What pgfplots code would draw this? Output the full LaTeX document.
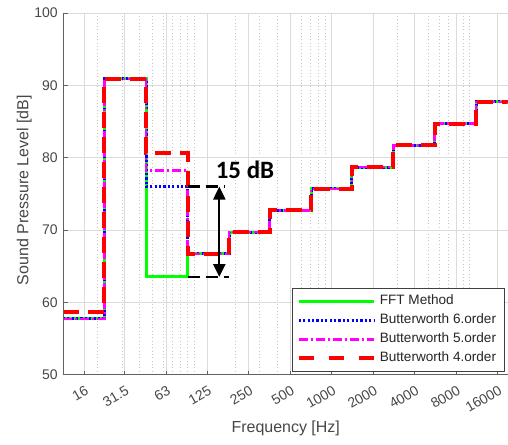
\documentclass[border=0pt]{standalone}
\usepackage{pgfplots}
\pgfplotsset{compat=1.18}
\usetikzlibrary{arrows.meta}
\usepackage{fontspec}
\setmainfont{Liberation Sans}
\newfontfamily\calibri{Carlito}
\definecolor{axgray}{rgb}{0.38,0.38,0.38}
\definecolor{txtgray}{rgb}{0.28,0.28,0.28}
\definecolor{mgreen}{rgb}{0,1,0}
\definecolor{mblue}{rgb}{0,0,1}
\definecolor{mmag}{rgb}{1,0,1}
\definecolor{mred}{rgb}{1,0,0}
\begin{document}
\begin{tikzpicture}
\begin{axis}[
  scale only axis, width=444pt, height=362pt,
  xmode=log, xmin=11.4, xmax=18900, ymin=50, ymax=100,
  axis lines*=left,
  axis line style={draw=axgray, line width=1pt, -},
  tick align=inside,
  major tick length=4pt, minor tick length=0pt,
  tick style={draw=axgray, line width=0.8pt},
  xtick={16,31.5,63,125,250,500,1000,2000,4000,8000,16000},
  xticklabels={16,31.5,63,125,250,500,1000,2000,4000,8000,16000},
  minor xtick={20,30,40,50,60,70,80,90,100,200,300,400,500,600,700,800,900,1000,2000,3000,4000,5000,6000,7000,8000,9000,10000},
  ytick={50,60,70,80,90,100},
  xmajorgrids, ymajorgrids, xminorgrids,
  major grid style={draw=black!14, line width=0.7pt},
  minor grid style={draw=black!22, line width=0.55pt, dash pattern=on 0.55pt off 2.8pt},
  /pgf/number format/assume math mode=true,
  tick label style={font=\fontsize{14}{16}\selectfont, text=txtgray, inner sep=0pt},
  xticklabel shift=14.5pt,
  xticklabel style={xshift=3pt, rotate=30, anchor=east},
  yticklabel shift=6pt,
  xlabel={Frequency [Hz]},
  ylabel={Sound Pressure Level [dB]},
  label style={font=\fontsize{16}{19}\selectfont, text=txtgray},
  xlabel style={at={(axis description cs:0.5,-0.160)}, anchor=base},
  ylabel style={at={(axis description cs:-0.080,0.51)}, anchor=base},
  legend cell align=left,
  legend image code/.code={\draw[#1] (0pt,0pt) -- (75pt,0pt);},
  legend style={at={(axis description cs:0.9932,0.0083)}, anchor=south east,
    draw=black!75, line width=0.8pt, fill=white,
    font=\fontsize{13.6}{16}\selectfont, text=black!85,
    inner xsep=4pt, inner ysep=3.5pt, row sep=0pt,
    nodes={text height=10pt, text depth=3pt, inner ysep=3pt, inner xsep=4pt}},
]
\addplot[const plot, draw=mgreen, line width=3pt, line join=miter] coordinates {
(11.2,57.7) (22.4,90.9) (45,63.5) (90,66.7) (180,69.7) (355,72.7) (710,75.7) (1400,78.7) (2800,81.7) (5600,84.7) (11200,87.7) (22400,87.7)};
\addlegendentry{FFT Method}
\addplot[const plot, draw=mblue, line width=3pt, line join=miter, dash pattern=on 2.2pt off 2.2pt] coordinates {
(11.2,57.7) (22.4,90.9) (45,76.0) (90,66.7) (180,69.7) (355,72.7) (710,75.7) (1400,78.7) (2800,81.7) (5600,84.7) (11200,87.7) (22400,87.7)};
\addlegendentry{Butterworth 6.order}
\addplot[const plot, draw=mmag, line width=2.5pt, line join=miter, dash pattern=on 9pt off 3pt on 2pt off 3pt] coordinates {
(11.2,57.7) (22.4,90.9) (45,78.2) (90,66.7) (180,69.7) (355,72.7) (710,75.7) (1400,78.7) (2800,81.7) (5600,84.7) (11200,87.7) (22400,87.7)};
\addlegendentry{Butterworth 5.order}
\addplot[const plot, draw=mred, line width=4pt, line join=miter, dash pattern=on 16pt off 9pt,
  legend image post style={dash pattern=on 15pt off 15pt}] coordinates {
(11.2,58.7) (22.4,90.9) (45,80.6) (90,66.7) (180,69.7) (355,72.7) (710,75.7) (1400,78.7) (2800,81.7) (5600,84.7) (11200,87.7) (22400,87.7)};
\addlegendentry{Butterworth 4.order}
\draw[black, line width=2.2pt, dash pattern=on 12pt off 6pt] (axis cs:90,76) -- (axis cs:168,76);
\draw[black, line width=2.2pt, dash pattern=on 12pt off 6pt] (axis cs:90,63.5) -- (axis cs:180,63.5);
\draw[black, line width=2.3pt, {Triangle[width=12pt,length=13pt]}-{Triangle[width=12pt,length=13pt]}] (axis cs:153,76) -- (axis cs:153,63.5);
\node[font=\fontsize{25}{30}\calibri\bfseries, text=black] at (axis cs:235,78.3) {15 dB};
\end{axis}
\path ([shift={(-64pt,-70pt)}]current axis.south west) rectangle ([shift={(0pt,13pt)}]current axis.north east);
\end{tikzpicture}
\end{document}
